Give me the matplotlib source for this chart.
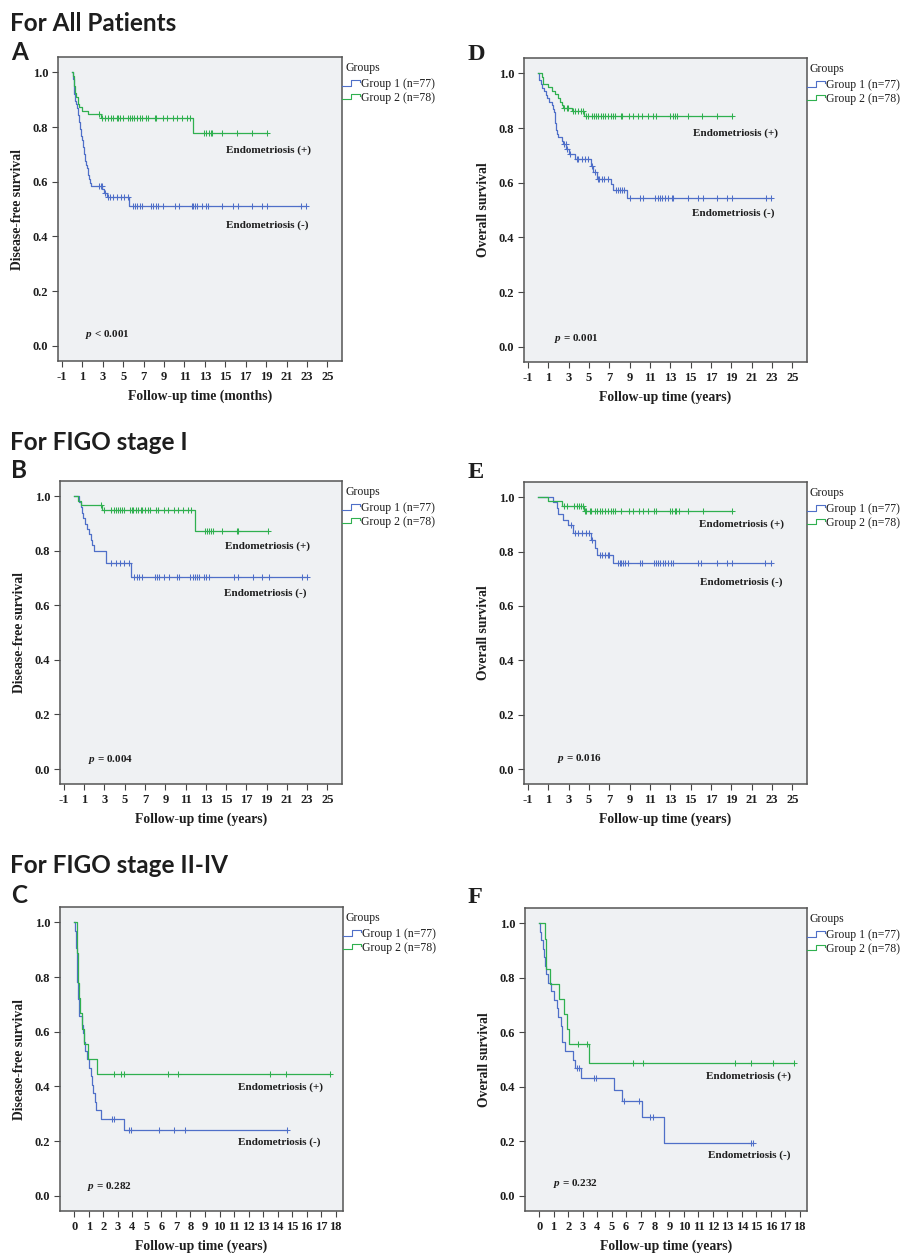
import numpy as np
import matplotlib
matplotlib.use("Agg")
import matplotlib.pyplot as plt
from matplotlib.legend_handler import HandlerBase
from matplotlib.lines import Line2D

# ---------------- DATA ----------------
GROUP_LABELS = ["Group 1 (n=77)", "Group 2 (n=78)"]
SECTION_TITLES = ["For All Patients", "For FIGO stage I", "For FIGO stage II-IV"]
TICKS_LONG = [-1, 1, 3, 5, 7, 9, 11, 13, 15, 17, 19, 21, 23, 25]
TICKS_SHORT = list(range(0, 19))
Y_TICKS = [0.0, 0.2, 0.4, 0.6, 0.8, 1.0]

# Panel A (months) - disease-free survival, all patients
A_G1_T = [0.10, 0.12, 0.14, 0.17, 0.20, 0.23, 0.27, 0.32, 0.37, 0.45, 0.55, 0.62, 0.68, 0.72,
          0.76, 0.81, 0.87, 0.92, 0.97, 1.02, 1.07, 1.12, 1.17, 1.23, 1.30, 1.37, 1.45, 1.52,
          1.58, 1.65, 1.73, 1.85, 2.95, 3.15, 3.45, 5.60]
A_G1_S = [0.987, 0.974, 0.961, 0.948, 0.935, 0.922, 0.909, 0.896, 0.883, 0.870, 0.857, 0.844,
          0.831, 0.818, 0.805, 0.792, 0.779, 0.766, 0.753, 0.740, 0.727, 0.714, 0.701, 0.688,
          0.675, 0.662, 0.649, 0.636, 0.623, 0.610, 0.597, 0.584, 0.572, 0.558, 0.544, 0.511]
A_G1_C = [2.66, 2.79, 2.89, 3.22, 3.54, 3.71, 4.03, 4.42, 4.75, 5.08, 5.50, 5.93, 6.16, 6.39,
          6.65, 6.81, 7.69, 7.95, 8.22, 8.44, 8.87, 10.08, 10.5, 11.71, 11.88, 12.04, 12.27,
          12.69, 13.12, 13.35, 14.65, 15.8, 16.29, 17.6, 18.58, 19.13, 22.4, 22.92]
A_G2_T = [0.12, 0.15, 0.18, 0.22, 0.25, 0.28, 0.40, 0.58, 0.60, 0.63, 0.93, 1.58, 2.85, 11.85]
A_G2_S = [0.987, 0.974, 0.962, 0.949, 0.936, 0.923, 0.910, 0.897, 0.885, 0.872, 0.859, 0.846,
          0.833, 0.777]
A_G2_C = [2.66, 2.89, 3.22, 3.54, 3.77, 4.03, 4.36, 4.52, 4.69, 4.95, 5.50, 5.67, 5.83, 6.06,
          6.39, 6.65, 6.81, 7.24, 7.46, 8.12, 8.22, 8.93, 9.33, 9.85, 10.24, 10.73, 11.22, 11.55,
          12.92, 13.12, 13.44, 13.58, 13.67, 14.65, 16.12, 17.6, 19.13]

# Panel D (years) - overall survival, all patients
D_G1_T = [0.05, 0.10, 0.25, 0.40, 0.60, 0.75, 0.90, 1.06, 1.33, 1.49, 1.58, 1.62, 1.65, 1.68,
          1.72, 1.77, 1.82, 1.98, 2.35, 2.50, 2.75, 3.03, 3.62, 5.19, 5.42, 5.75, 7.16, 7.39, 8.70]
D_G1_S = [0.987, 0.974, 0.961, 0.948, 0.935, 0.922, 0.909, 0.896, 0.883, 0.870, 0.857, 0.844,
          0.831, 0.818, 0.805, 0.792, 0.779, 0.766, 0.753, 0.740, 0.722, 0.704, 0.687, 0.663,
          0.639, 0.615, 0.594, 0.573, 0.544]
D_G1_C = [2.57, 2.70, 2.80, 3.13, 3.79, 3.95, 4.34, 4.60, 4.87, 5.33, 5.59, 5.85, 5.98, 6.31,
          6.51, 6.83, 7.62, 7.82, 8.05, 8.21, 8.47, 9.03, 10.01, 10.34, 11.49, 11.75, 11.98,
          12.21, 12.47, 12.73, 13.13, 13.29, 14.7, 15.75, 16.24, 17.55, 18.53, 19.09, 22.37, 22.89]
D_G2_T = [0.41, 0.45, 0.51, 0.93, 1.33, 1.65, 1.92, 2.15, 2.35, 2.47, 3.29, 4.54]
D_G2_S = [0.987, 0.974, 0.962, 0.949, 0.936, 0.923, 0.910, 0.897, 0.885, 0.872, 0.861, 0.845]
D_G2_C = [2.57, 2.80, 2.97, 3.46, 3.62, 3.95, 4.21, 4.44, 4.67, 4.87, 5.26, 5.52, 5.65, 5.92,
          6.18, 6.41, 6.57, 6.83, 7.16, 7.39, 7.55, 8.14, 8.27, 8.93, 9.36, 9.85, 10.24, 10.77,
          11.32, 11.55, 12.96, 13.29, 13.45, 13.62, 14.7, 16.14, 17.55, 19.09]

# Panel B (years) - disease-free survival, FIGO stage I
B_G1_T = [0.51, 0.70, 0.80, 0.93, 1.10, 1.33, 1.49, 1.65, 1.82, 1.98, 3.12, 5.58]
B_G1_S = [0.980, 0.960, 0.940, 0.920, 0.900, 0.880, 0.860, 0.840, 0.820, 0.800, 0.756, 0.705]
B_G1_C = [3.62, 4.11, 4.50, 4.92, 5.41, 5.91, 6.23, 6.46, 6.72, 8.03, 8.20, 8.42, 8.85, 9.41,
          10.16, 10.39, 11.47, 11.70, 11.89, 12.12, 12.35, 12.78, 13.00, 13.27, 15.82, 16.21,
          17.68, 18.50, 19.22, 22.49, 23.01]
B_G2_T = [0.35, 0.65, 2.80, 11.89]
B_G2_S = [0.984, 0.968, 0.951, 0.873]
B_G2_C = [2.63, 2.96, 3.62, 3.94, 4.17, 4.37, 4.50, 4.69, 4.92, 5.51, 5.68, 5.84, 6.07, 6.33,
          6.56, 6.72, 7.05, 7.31, 7.54, 8.13, 8.29, 8.85, 9.27, 9.83, 10.26, 10.71, 11.24, 11.56,
          12.94, 13.10, 13.33, 13.53, 13.66, 14.57, 16.05, 16.21, 19.15]

# Panel E (years) - overall survival, FIGO stage I
E_G1_T = [1.49, 1.82, 1.98, 2.47, 2.90, 3.45, 5.25, 5.58, 5.84, 7.38]
E_G1_S = [0.982, 0.961, 0.937, 0.915, 0.896, 0.868, 0.844, 0.815, 0.787, 0.759]
E_G1_C = [3.22, 3.62, 3.94, 4.34, 4.76, 4.99, 5.32, 6.07, 6.24, 6.56, 6.83, 6.96, 7.87, 8.04,
          8.20, 8.37, 8.53, 8.86, 10.00, 10.23, 11.41, 11.64, 11.80, 11.97, 12.29, 12.52, 12.78,
          13.05, 13.28, 15.73, 16.06, 17.63, 18.52, 19.07, 22.35, 22.88]
E_G2_T = [1.00, 2.31, 4.53]
E_G2_S = [0.985, 0.969, 0.948]
E_G2_C = [2.57, 2.80, 3.55, 3.78, 4.01, 4.27, 4.43, 4.60, 4.76, 5.09, 5.25, 5.58, 5.84, 6.07,
          6.30, 6.56, 6.89, 7.15, 7.38, 7.61, 8.20, 8.92, 9.35, 9.90, 10.33, 10.82, 11.41, 11.64,
          12.95, 13.18, 13.44, 13.60, 13.83, 14.75, 16.23, 19.07]

# Panel C (years) - disease-free survival, FIGO stage II-IV
C_G1_T = [0.08, 0.09, 0.10, 0.16, 0.18, 0.20, 0.22, 0.24, 0.27, 0.30, 0.33, 0.56, 0.62, 0.68,
          0.72, 0.87, 1.05, 1.12, 1.20, 1.28, 1.40, 1.52, 1.85, 3.45]
C_G1_S = [0.969, 0.938, 0.906, 0.875, 0.844, 0.813, 0.781, 0.750, 0.719, 0.688, 0.656, 0.625,
          0.594, 0.563, 0.531, 0.500, 0.469, 0.438, 0.406, 0.375, 0.344, 0.313, 0.281, 0.241]
C_G1_C = [2.62, 2.75, 3.76, 3.88, 5.85, 6.84, 7.60, 14.62]
C_G2_T = [0.18, 0.22, 0.24, 0.25, 0.32, 0.41, 0.55, 0.64, 0.94, 1.56]
C_G2_S = [0.944, 0.889, 0.833, 0.778, 0.722, 0.667, 0.611, 0.556, 0.500, 0.444]
C_G2_C = [2.71, 3.23, 3.40, 6.45, 7.14, 13.50, 14.60, 17.58]

# Panel F (years) - overall survival, FIGO stage II-IV
F_G1_T = [0.07, 0.10, 0.23, 0.30, 0.37, 0.46, 0.60, 0.83, 0.99, 1.22, 1.33, 1.50, 1.56, 1.61,
          1.75, 2.37, 2.48, 2.90, 5.20, 5.75, 7.09, 8.65]
F_G1_S = [0.969, 0.938, 0.906, 0.875, 0.844, 0.813, 0.781, 0.750, 0.719, 0.688, 0.656, 0.625,
          0.594, 0.563, 0.531, 0.500, 0.469, 0.433, 0.390, 0.347, 0.289, 0.193]
F_G1_C = [2.58, 2.74, 3.77, 3.93, 5.84, 6.88, 7.64, 7.87, 14.66, 14.78]
F_G2_T = [0.43, 0.47, 0.50, 0.78, 1.35, 1.70, 1.93, 2.05, 3.43]
F_G2_S = [0.944, 0.889, 0.833, 0.778, 0.722, 0.667, 0.611, 0.556, 0.486]
F_G2_C = [2.71, 3.29, 6.51, 7.16, 13.54, 14.64, 16.18, 17.63]

P_VALUES = {"A": "< 0.001", "D": "= 0.001", "B": "= 0.004", "E": "= 0.016",
            "C": "= 0.282", "F": "= 0.232"}
Y_LABELS = {"A": "Disease-free survival", "B": "Disease-free survival",
            "C": "Disease-free survival", "D": "Overall survival",
            "E": "Overall survival", "F": "Overall survival"}
X_LABELS = {"A": "Follow-up time (months)", "B": "Follow-up time (years)",
            "C": "Follow-up time (years)", "D": "Follow-up time (years)",
            "E": "Follow-up time (years)", "F": "Follow-up time (years)"}

PANEL_DATA = {
    "A": (A_G1_T, A_G1_S, A_G1_C, A_G2_T, A_G2_S, A_G2_C),
    "D": (D_G1_T, D_G1_S, D_G1_C, D_G2_T, D_G2_S, D_G2_C),
    "B": (B_G1_T, B_G1_S, B_G1_C, B_G2_T, B_G2_S, B_G2_C),
    "E": (E_G1_T, E_G1_S, E_G1_C, E_G2_T, E_G2_S, E_G2_C),
    "C": (C_G1_T, C_G1_S, C_G1_C, C_G2_T, C_G2_S, C_G2_C),
    "F": (F_G1_T, F_G1_S, F_G1_C, F_G2_T, F_G2_S, F_G2_C),
}

# ---------------- LAYOUT / STYLE ----------------
W, H = 902, 1254
BLUE = "#4f6fc8"
GREEN = "#2fb04f"
FACE = "#eff1f3"
INK = "#1e1e1e"

plt.rcParams["font.family"] = ["Liberation Serif", "DejaVu Serif"]
plt.rcParams["mathtext.fontset"] = "custom"
plt.rcParams["mathtext.it"] = "Liberation Serif:italic:bold"
plt.rcParams["mathtext.rm"] = "Liberation Serif:bold"

# frame pixel boxes (left, top, right, bottom)
BOXES = {"A": (58, 57, 342, 361), "D": (524, 58, 807, 362),
         "B": (60, 481, 342, 784), "E": (524, 482, 807, 784),
         "C": (60, 907, 343, 1211), "F": (525, 908, 807, 1211)}
LONG_XLIM = (-1.38, 26.43)
SHORT_XLIM = (-0.98, 18.5)
YLIM = (-0.055, 1.056)

ANNOT = {  # (x of +label, y of +label, x of -label, y of -label, p x, p y)
    "A": (15.08, 0.715, 15.08, 0.442, 1.25, 0.043),
    "D": (15.19, 0.783, 15.16, 0.490, 1.56, 0.031),
    "B": (14.90, 0.818, 14.84, 0.646, 1.39, 0.034),
    "E": (15.83, 0.900, 15.90, 0.687, 1.82, 0.040),
    "C": (11.25, 0.398, 11.25, 0.195, 0.87, 0.033),
    "F": (11.55, 0.440, 11.67, 0.149, 0.97, 0.046),
}


class StepHandler(HandlerBase):
    def create_artists(self, legend, orig_handle, xdescent, ydescent, width, height,
                       fontsize, trans):
        xs = np.array([0.0, 0.48, 0.48, 1.0, 1.0]) * width - xdescent
        ys = np.array([0.10, 0.10, 0.90, 0.90, 0.55]) * height - ydescent
        ln = Line2D(xs, ys, color=orig_handle.get_color(), lw=0.8, transform=trans)
        return [ln]


def surv_at(t, times, levels):
    idx = np.searchsorted(np.asarray(times), t, side="right") - 1
    return 1.0 if idx < 0 else levels[idx]


def draw_km(ax, times, levels, cens, color):
    tend = max(max(times), max(cens))
    xs = [0.0] + list(times) + [tend]
    ys = [1.0] + list(levels) + [levels[-1]]
    ax.step(xs, ys, where="post", color=color, lw=0.9)
    cy = [surv_at(c, times, levels) for c in cens]
    ax.plot(cens, cy, linestyle="none", marker="+", markersize=4.5, mew=0.75, color=color)


fig = plt.figure(figsize=(W / 100, H / 100), dpi=100)

# section titles and panel letters
SEC_Y = [31, 450, 873]
for title, y in zip(SECTION_TITLES, SEC_Y):
    fig.text(10 / W, 1 - y / H, title, fontfamily=["Lato", "DejaVu Sans"], fontweight="bold",
             fontsize=17.5, va="baseline", ha="left", color=INK)
LETTERS = {"A": (11, 60), "B": (11, 478), "C": (11, 903),
           "D": (468, 60), "E": (468, 478), "F": (468, 903)}
for key, (x, y) in LETTERS.items():
    fam = ["Lato", "DejaVu Sans"] if key in "ABC" else ["Liberation Serif", "DejaVu Serif"]
    fig.text(x / W, 1 - y / H, key, fontfamily=fam, fontweight="bold", fontsize=17.5,
             va="baseline", ha="left", color=INK)

for key, (l, t, r, b) in BOXES.items():
    hpx = b - t
    ax = fig.add_axes([l / W, 1 - b / H, (r - l) / W, hpx / H])
    ax.set_facecolor(FACE)
    for sp in ax.spines.values():
        sp.set_color("#555555")
        sp.set_linewidth(1.1)
    g1t, g1s, g1c, g2t, g2s, g2c = PANEL_DATA[key]
    draw_km(ax, g1t, g1s, g1c, BLUE)
    draw_km(ax, g2t, g2s, g2c, GREEN)

    if key in "ABDE":
        ax.set_xlim(*LONG_XLIM)
        ax.set_xticks(TICKS_LONG)
        ax.set_xticklabels([str(v) for v in TICKS_LONG])
    else:
        ax.set_xlim(*SHORT_XLIM)
        ax.set_xticks(TICKS_SHORT)
        ax.set_xticklabels([str(v) for v in TICKS_SHORT])
    ax.set_ylim(*YLIM)
    ax.set_yticks(Y_TICKS)
    ax.set_yticklabels([f"{v:.1f}" for v in Y_TICKS])
    ax.tick_params(direction="out", length=4.5, width=0.8, color="#444444",
                   labelsize=9, pad=2.5, labelcolor=INK)
    for lab in ax.get_xticklabels() + ax.get_yticklabels():
        lab.set_fontweight("bold")
    ax.set_ylabel(Y_LABELS[key], fontsize=9.8, fontweight="bold", labelpad=6, color=INK)
    ax.set_xlabel(X_LABELS[key], fontsize=9.8, fontweight="bold", labelpad=5, color=INK)

    xp, yp, xm, ym, px, py = ANNOT[key]
    ax.text(xp, yp, "Endometriosis (+)", fontsize=8, fontweight="bold", va="center",
            ha="left", color=INK)
    ax.text(xm, ym, "Endometriosis (-)", fontsize=8, fontweight="bold", va="center",
            ha="left", color=INK)
    ax.text(px, py, r"$p$ " + P_VALUES[key], fontsize=8, fontweight="bold", va="center",
            ha="left", color=INK)

    # legend title placed as text, entries as legend
    ax.text(1.0 + 3 / (r - l), 1 - 11 / hpx, "Groups", transform=ax.transAxes,
            fontsize=8.5, va="center", ha="left", color=INK)
    handles = [Line2D([], [], color=BLUE), Line2D([], [], color=GREEN)]
    leg = ax.legend(handles, GROUP_LABELS, loc="upper left",
                    bbox_to_anchor=(1.0, 1 - 21 / hpx), frameon=False, fontsize=8.5,
                    handler_map={Line2D: StepHandler()},
                    handlelength=1.5, handleheight=0.55, handletextpad=0.1, borderpad=0,
                    borderaxespad=0, labelspacing=0.15)
    for txt in leg.get_texts():
        txt.set_color(INK)

fig.savefig("out.png", dpi=100, facecolor="white")
